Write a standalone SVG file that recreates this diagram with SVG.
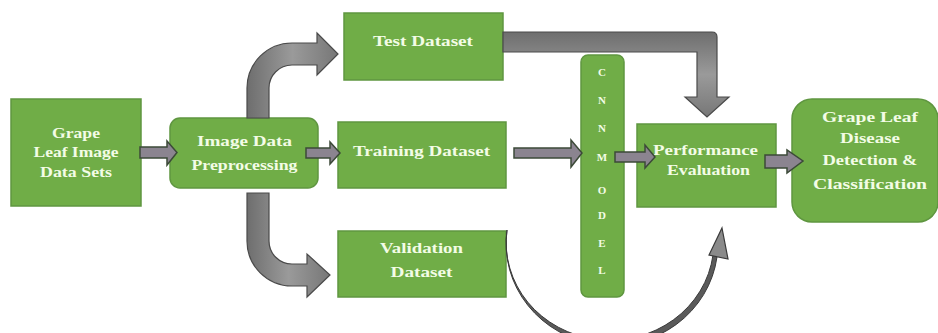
<svg xmlns="http://www.w3.org/2000/svg" width="938" height="333" viewBox="0 0 938 333">
<defs>
<linearGradient id="gv" x1="0" y1="0" x2="1" y2="0">
<stop offset="0" stop-color="#6e6e6e"/><stop offset="0.5" stop-color="#9a9a9a"/><stop offset="1" stop-color="#777"/>
</linearGradient>
<linearGradient id="gh" x1="0" y1="0" x2="0" y2="1">
<stop offset="0" stop-color="#6e6e6e"/><stop offset="0.5" stop-color="#9a9a9a"/><stop offset="1" stop-color="#777"/>
</linearGradient>
</defs>
<style>
.box{fill:#70AD47;stroke:#5f9640;stroke-width:1.5}
.t{font-family:"Liberation Serif",serif;font-weight:bold;fill:#F3FCE6;text-anchor:middle;font-size:15px}
.s{font-family:"Liberation Serif",serif;font-weight:bold;fill:#F3FCE6;text-anchor:middle;font-size:11px}
.big{fill:url(#gv);stroke:#4a4a4a;stroke-width:1.2}
.bigh{fill:url(#gh);stroke:#4a4a4a;stroke-width:1.2}
.sm{fill:#8b8490;stroke:#3c4a38;stroke-width:1.5}
</style>
<g id="grape-data">
<rect class="box" x="11" y="99" width="130" height="107"/>
<text class="t" x="76" y="138" textLength="48" lengthAdjust="spacingAndGlyphs">Grape</text>
<text class="t" x="76" y="157" textLength="85" lengthAdjust="spacingAndGlyphs">Leaf Image</text>
<text class="t" x="76" y="177" textLength="72" lengthAdjust="spacingAndGlyphs">Data Sets</text>
</g>
<g id="preprocessing">
<rect class="box" x="170" y="118" width="148" height="70" rx="10"/>
<text class="t" x="244.5" y="146" textLength="95" lengthAdjust="spacingAndGlyphs">Image Data</text>
<text class="t" x="244.5" y="170" textLength="106" lengthAdjust="spacingAndGlyphs">Preprocessing</text>
</g>
<g id="test">
<rect class="box" x="344" y="13" width="159" height="67"/>
<text class="t" x="423" y="46" textLength="100" lengthAdjust="spacingAndGlyphs">Test Dataset</text>
</g>
<g id="training">
<rect class="box" x="338" y="122" width="168" height="66"/>
<text class="t" x="421.5" y="156" textLength="137" lengthAdjust="spacingAndGlyphs">Training Dataset</text>
</g>
<g id="validation">
<rect class="box" x="338" y="231" width="168" height="66"/>
<text class="t" x="421.5" y="253" textLength="83" lengthAdjust="spacingAndGlyphs">Validation</text>
<text class="t" x="421.5" y="277" textLength="62" lengthAdjust="spacingAndGlyphs">Dataset</text>
</g>
<g id="cnn">
<rect class="box" x="581" y="55" width="43" height="242" rx="7"/>
<text class="s" x="602" y="76">C</text>
<text class="s" x="602" y="104">N</text>
<text class="s" x="602" y="132">N</text>
<text class="s" x="602" y="161">M</text>
<text class="s" x="602" y="194">O</text>
<text class="s" x="602" y="219">D</text>
<text class="s" x="602" y="247">E</text>
<text class="s" x="602" y="274">L</text>
</g>
<g id="performance">
<rect class="box" x="637" y="124" width="139" height="83"/>
<text class="t" x="705.5" y="155" textLength="105" lengthAdjust="spacingAndGlyphs">Performance</text>
<text class="t" x="708.5" y="175" textLength="83" lengthAdjust="spacingAndGlyphs">Evaluation</text>
</g>
<g id="result">
<rect class="box" x="792" y="99" width="146" height="123" rx="20"/>
<text class="t" x="870" y="122" textLength="96" lengthAdjust="spacingAndGlyphs">Grape Leaf</text>
<text class="t" x="870" y="143" textLength="60" lengthAdjust="spacingAndGlyphs">Disease</text>
<text class="t" x="870" y="165" textLength="95" lengthAdjust="spacingAndGlyphs">Detection &amp;</text>
<text class="t" x="870" y="189" textLength="114" lengthAdjust="spacingAndGlyphs">Classification</text>
</g>
<g id="connectors">
<path class="big" d="M247,118 L247,88 A45,45 0 0 1 292,43 L317,43 L317,33 L338,54 L317,75 L317,65 L292,65 A23,23 0 0 0 269,88 L269,118 Z"/>
<path class="big" d="M247,193 L247,241 A45,45 0 0 0 292,286 L307,286 L307,297 L330,275 L307,254 L307,264 L292,264 A23,23 0 0 1 269,241 L269,193 Z"/>
<path class="bigh" d="M503,32 L712,32 Q717,32 717,37 L717,97 L729,97 L707,117 L685,97 L697,97 L697,52 L503,52 Z"/>
<path class="sm" d="M140,147 L167,147 L167,141 L177,152.5 L167,165 L167,158 L140,158 Z"/>
<path class="sm" d="M306,148 L330,148 L330,142 L340,153 L330,164 L330,158 L306,158 Z"/>
<path class="sm" d="M514,148 L571,148 L571,140 L582,153 L571,167 L571,158 L514,158 Z"/>
<path class="sm" d="M615,152 L645,152 L645,145 L655,157 L645,168 L645,162 L615,162 Z"/>
<path class="sm" d="M765,155 L787,155 L787,150 L803,161 L787,173 L787,168 L765,168 Z"/>
<path d="M507,230 A105,101 0 0 0 717,257 L713,255 A101,95 0 0 1 507,230 Z" fill="#5a5a5a" stroke="#3a3a3a" stroke-width="1"/>
<path d="M722,228 L728,259 L709,255 Z" fill="#8a8a8a" stroke="#3a3a3a" stroke-width="1.2"/>
</g>
</svg>
